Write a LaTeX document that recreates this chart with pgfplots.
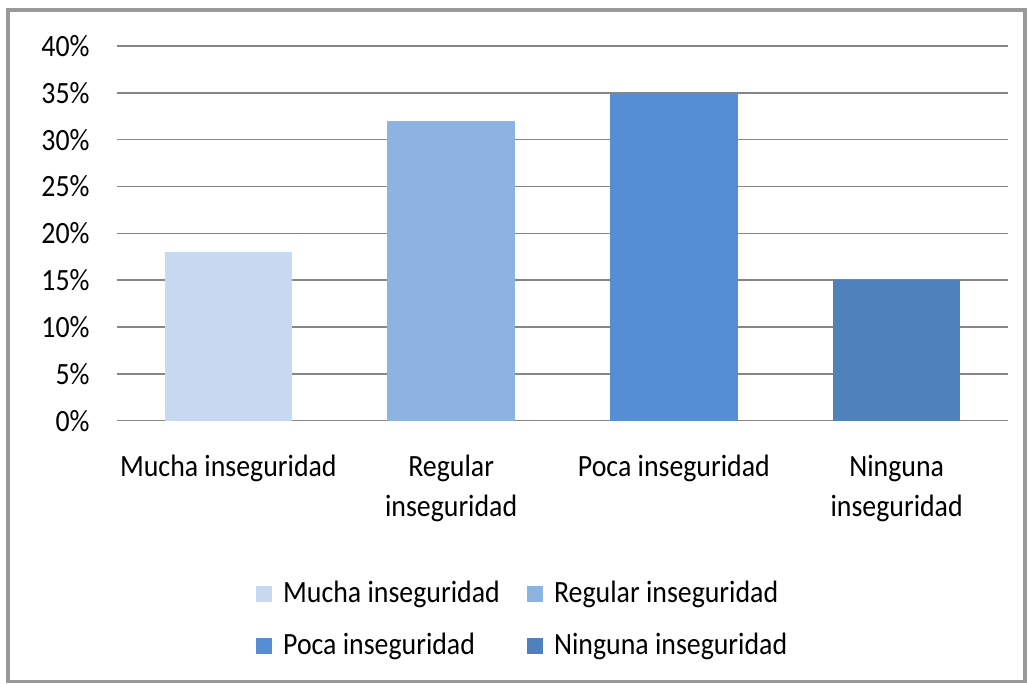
\documentclass[border=0pt]{standalone}
\usepackage{pgfplots}
\pgfplotsset{compat=1.18}
\usepackage{fontspec}
\setmainfont{Carlito}[FakeStretch=0.9]
\definecolor{barA}{HTML}{C6D9F1}
\definecolor{barB}{HTML}{8DB3E2}
\definecolor{barC}{HTML}{558ED5}
\definecolor{barD}{HTML}{4F81BD}
\definecolor{gridgray}{HTML}{868686}

\begin{document}
\begin{tikzpicture}
\begin{axis}[
    scale only axis,
    width=12.15cm,
    height=5.11cm,
    ybar,
    bar width=1.74cm,
    bar shift=0pt,
    xmin=-0.5, xmax=3.5,
    ymin=0, ymax=40,
    ytick={0,5,...,40},
    yticklabel={\pgfmathprintnumber{\tick}\%},
    xtick={0,1,2,3},
    xticklabels={{Mucha inseguridad},{Regular\\inseguridad},{Poca inseguridad},{Ninguna\\inseguridad}},
    xticklabel style={align=center, font=\fontsize{12}{15.5}\selectfont, yshift=-0.35cm},
    yticklabel style={font=\fontsize{12}{14}\selectfont, xshift=-0.25cm},
    /pgf/number format/assume math mode=true,
    major tick length=0pt,
    ymajorgrids=true,
    grid style={gridgray, line width=0.6pt},
    axis x line*=bottom,
    axis y line*=left,
    y axis line style={draw=none},
    x axis line style={gridgray, line width=0.6pt, -},
    legend cell align=left,
    legend style={at={(0.457,-0.40)}, anchor=north, draw=none, legend columns=2,
      font=\fontsize{12}{14}\selectfont, /tikz/every even column/.append style={column sep=0.3cm},
      row sep=0.22cm},
    legend image code/.code={\fill[#1] (0cm,-0.11cm) rectangle (0.22cm,0.11cm); \path (0.3cm,0cm);},
    clip=false,
]
\addplot[fill=barA, draw=none] coordinates {(0,18)};
\addplot[fill=barB, draw=none] coordinates {(1,32)};
\addplot[fill=barC, draw=none] coordinates {(2,35)};
\addplot[fill=barD, draw=none] coordinates {(3,15)};
\legend{{Mucha inseguridad},{Regular inseguridad},{Poca inseguridad},{Ninguna inseguridad}}
\draw[gray!80, line width=1.2pt] (axis description cs:-0.1223,1.096) rectangle (axis description cs:1.019,-0.696);
\useasboundingbox (axis description cs:-0.1313,1.1227) rectangle (axis description cs:1.0213,-0.7013);
\end{axis}
\end{tikzpicture}
\end{document}
